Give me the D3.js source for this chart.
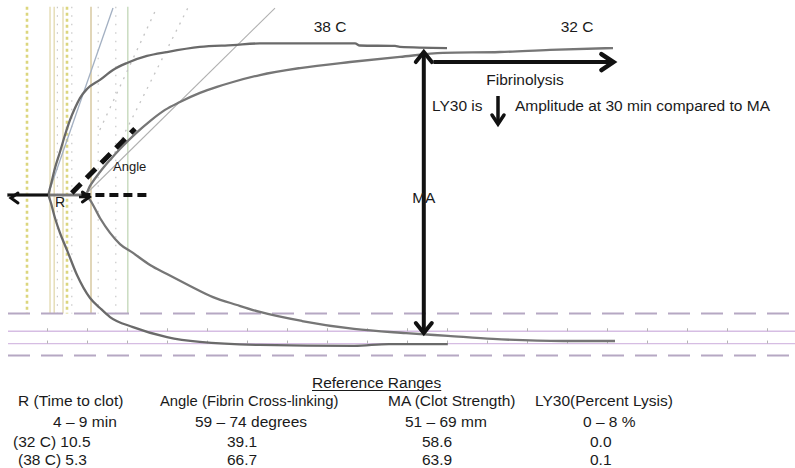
<!DOCTYPE html>
<html><head><meta charset="utf-8">
<script src="https://cdn.jsdelivr.net/npm/d3@7"></script>
<style>
body{margin:0;background:#fff}
svg{display:block}
text{font-family:"Liberation Sans",Arial,sans-serif;fill:#1a1a1a}
</style>
</head><body>
<svg id="c" width="795" height="468"></svg>
<script>
// ---- data: time (min) vs amplitude (mm, signed: upper / lower trace) ----
const curve38Upper = [[0,0],[5.12,0],[5.38,3.0],[6.0,11.6],[6.62,18.5],[7.25,25.8],[7.88,32.3],[8.5,37.4],[9.12,41.7],[10.0,45.6],[11.62,49.5],[13.25,53.8],[15.0,56.8],[17.5,59.8],[20.0,61.5],[24.1,63.7],[28.25,64.5],[31.6,65.2],[43.5,65.2],[44.1,64.3],[48.5,64.1],[49.1,63.7],[55.0,63.2]];
const curve38Lower = [[0,0],[5.12,0],[5.38,-2.2],[6.0,-9.9],[6.62,-16.3],[7.5,-23.7],[8.75,-34.4],[10.38,-44.3],[11.62,-48.6],[12.88,-52.5],[15.75,-56.8],[20.0,-61.1],[24.1,-63.2],[31.6,-64.5],[43.4,-64.9],[47.75,-64.1],[55.1,-64.1]];
const curve32Upper = [[0,0],[9.75,0],[10.38,3.9],[11.62,9.9],[12.88,15.1],[14.12,19.8],[16.0,26.2],[17.88,31.8],[19.75,36.6],[21.62,40.0],[24.12,43.9],[26.25,46.5],[28.25,48.6],[31.62,51.6],[36.62,54.6],[42.88,57.2],[49.12,59.4],[54.5,61.1],[61.62,61.5],[67.88,62.4],[75.75,63.2]];
const curve32Lower = [[0,0],[9.75,0],[10.38,-2.2],[11.62,-9.9],[12.88,-16.3],[14.12,-21.1],[15.75,-24.9],[17.88,-30.1],[20.0,-34.0],[22.88,-39.1],[25.75,-43.9],[28.75,-47.3],[31.62,-50.3],[36.88,-54.2],[43.38,-57.6],[49.88,-59.4],[55.12,-60.6],[60.75,-61.9],[69.5,-62.8],[76.0,-62.8]];

// angle tangent lines [t0,a0,t1,a1]
const angleTangent38 = [5.12,0,13.25,80.4];
const angleTangent32 = [9.75,0,33.5,80.4];
const angleDotted = [[11.6,28,18.7,80.4],[13.0,15,22.6,80.4]];

// vertical marker lines (min)
const dottedYellowTimes = [2.5, 7.5];
const solidMarkerTimes = [5.38, 5.9, 7.0, 10.5];
const greenMarkerTimes = [15.1];
const faintDotTimes = [6.3, 8.1, 11.4, 13.6];

// horizontal reference lines (mm)
const maRefRange = [51, 69];
const maValues = [58.6, 63.9];
const gridTicks = [5,10,15,20,25,30,35,40,45,50,55,60,65,70,75,80,85,90,95];

// labels
const tempLabels = ["38 C", "32 C"];
const tableTitle = "Reference Ranges";
const tableHeaders = ["R (Time to clot)", "Angle (Fibrin Cross-linking)", "MA (Clot Strength)", "LY30(Percent Lysis)"];
const refRanges = ["4 – 9 min", "59 – 74 degrees", "51 – 69 mm", "0 – 8 %"];
const values32 = ["10.5", "39.1", "58.6", "0.0"];
const values38 = ["5.3", "66.7", "63.9", "0.1"];

// ---- drawing ----
const W = 795, H = 468;
const svg = d3.select("#c");
svg.append("rect").attr("width", W).attr("height", H).attr("fill", "#fff");
const x = d3.scaleLinear().domain([0, 98.5]).range([7, 795]);
const y = d3.scaleLinear().domain([-80, 80]).range([381, 9]);

const vTop = y(81), vBot = y(-maRefRange[0]);
const g = svg.append("g");

// vertical lines
g.selectAll(".vy").data(dottedYellowTimes).join("line")
  .attr("x1", d => x(d)).attr("x2", d => x(d)).attr("y1", vTop).attr("y2", vBot)
  .attr("stroke", "#dcd67e").attr("stroke-width", 2.6).attr("stroke-dasharray", "3,3");
g.selectAll(".vs").data(solidMarkerTimes).join("line")
  .attr("x1", d => x(d)).attr("x2", d => x(d)).attr("y1", vTop).attr("y2", vBot)
  .attr("stroke", (d, i) => i === 3 ? "#d7c9a0" : "#e6deb8").attr("stroke-width", 1.5);
g.selectAll(".vg").data(greenMarkerTimes).join("line")
  .attr("x1", d => x(d)).attr("x2", d => x(d)).attr("y1", vTop).attr("y2", vBot)
  .attr("stroke", "#cadcc0").attr("stroke-width", 1.5);
g.selectAll(".vf").data(faintDotTimes).join("line")
  .attr("x1", d => x(d)).attr("x2", d => x(d)).attr("y1", vTop).attr("y2", vBot)
  .attr("stroke", "#c8c8c8").attr("stroke-width", 1.2).attr("stroke-dasharray", "1.5,7");

// angle dotted diagonals
g.selectAll(".ad").data(angleDotted).join("line")
  .attr("x1", d => x(d[0])).attr("y1", d => y(d[1])).attr("x2", d => x(d[2])).attr("y2", d => y(d[3]))
  .attr("stroke", "#c4c4c4").attr("stroke-width", 1.3).attr("stroke-dasharray", "2,6");

// horizontal reference lines
g.selectAll(".hd").data(maRefRange).join("line")
  .attr("x1", 8).attr("x2", W).attr("y1", d => y(-d)).attr("y2", d => y(-d))
  .attr("stroke", "#b6a8c3").attr("stroke-width", 2).attr("stroke-dasharray", "22,11");
g.selectAll(".hs").data(maValues).join("line")
  .attr("x1", 8).attr("x2", W).attr("y1", d => y(-d)).attr("y2", d => y(-d))
  .attr("stroke", "#d6bde3").attr("stroke-width", 1.3);
maValues.forEach(v => {
  const ax = g.append("g").attr("transform", `translate(0,${y(-v)})`)
    .call(d3.axisTop(x).tickValues(gridTicks).tickSize(3).tickFormat(""));
  ax.select(".domain").remove();
  ax.selectAll(".tick line").attr("stroke", "#b4b4b4").attr("stroke-width", 1);
});

// angle tangent lines
[[angleTangent38, "#a3b0c2", 1.3], [angleTangent32, "#b0b0b0", 1.1]].forEach(([d, c, w]) => {
  g.append("line").attr("x1", x(d[0])).attr("y1", y(d[1])).attr("x2", x(d[2])).attr("y2", y(d[3]))
    .attr("stroke", c).attr("stroke-width", w);
});

// traces
const line = d3.line().x(d => x(d[0])).y(d => y(d[1])).curve(d3.curveMonotoneX);
[[curve32Upper, "#767676"], [curve32Lower, "#767676"], [curve38Upper, "#6a6a6a"], [curve38Lower, "#6a6a6a"]]
  .forEach(([d, c]) => {
    g.append("path").datum(d).attr("d", line).attr("fill", "none")
      .attr("stroke", c).attr("stroke-width", 2.3).attr("stroke-linejoin", "round");
  });

// ---- annotations ----
const ann = svg.append("g");
function chevron(tx, ty, dir, len, half, w) {
  let p;
  if (dir === "right") p = [[tx - len, ty - half], [tx, ty], [tx - len, ty + half]];
  if (dir === "left") p = [[tx + len, ty - half], [tx, ty], [tx + len, ty + half]];
  if (dir === "up") p = [[tx - half, ty + len], [tx, ty], [tx + half, ty + len]];
  if (dir === "down") p = [[tx - half, ty - len], [tx, ty], [tx + half, ty - len]];
  ann.append("path").attr("d", d3.line()(p)).attr("fill", "none").attr("stroke", "#111")
    .attr("stroke-width", w).attr("stroke-linecap", "round").attr("stroke-linejoin", "miter");
}
function seg(x1, y1, x2, y2, w, dash) {
  const l = ann.append("line").attr("x1", x1).attr("y1", y1).attr("x2", x2).attr("y2", y2)
    .attr("stroke", "#111").attr("stroke-width", w);
  if (dash) l.attr("stroke-dasharray", dash);
  return l;
}
const base = y(0);
// R arrows
seg(8, base, x(5.12), base, 2.6);
chevron(11, base + 3, "left", 7, 5, 3);
seg(x(9.0), base + 2, x(10.2), base + 2, 2.6);
chevron(x(10.3), base + 2, "right", 7, 5, 3);
// angle dashed lines
seg(x(9.3), base, x(18), base, 4.2, "9,5");
seg(x(8.1), base - 2, x(16.0), y(28.5), 5, "13,8");
// MA arrow
const maT = 52.1;
seg(x(maT), y(61.0), x(maT), y(-59.0), 4);
chevron(x(maT), y(61.5), "up", 10, 8, 4);
chevron(x(maT), y(-59.4), "down", 10, 8, 4);
// fibrinolysis arrow
seg(x(53.3), y(57.2), x(75.6), y(57.2), 4);
chevron(x(75.8), y(57.2), "right", 12, 8, 4.5);
// LY30 down arrow
seg(498, 96, 498, 123, 3.5);
chevron(498, 124, "down", 9, 6, 3.5);

// text labels
const T = (tx, ty, s, fs, anchor) => svg.append("text").attr("x", tx).attr("y", ty)
  .attr("font-size", fs).attr("text-anchor", anchor || "start").text(s);
T(330, 32, tempLabels[0], 15.5, "middle");
T(577, 32, tempLabels[1], 15.5, "middle");
T(525, 85, "Fibrinolysis", 15.5, "middle");
T(432, 111, "LY30 is", 15.5);
T(515, 111, "Amplitude at 30 min compared to MA", 15.5);
T(x(maT), 203, "MA", 15.5, "middle");
T(55, 207, "R", 14);
T(113, 171, "Angle", 13);

// table
const tt = T(312, 388, tableTitle, 15.5);
const tw = tt.node().getComputedTextLength();
svg.append("line").attr("x1", 312).attr("x2", 312 + tw).attr("y1", 390.5).attr("y2", 390.5)
  .attr("stroke", "#1a1a1a").attr("stroke-width", 1);
const hx = [18, 160, 388, 535];
tableHeaders.forEach((s, i) => T(hx[i], 406, s, i === 1 ? 14.8 : 15.5));
const rx = [53, 195, 405, 583];
refRanges.forEach((s, i) => T(rx[i], 426.5, s, 15.5));
const vx = [13, 227, 422, 590];
values32.forEach((s, i) => T(vx[i], 447, i === 0 ? "(32 C) " + s : s, 15.5));
const vx2 = [18, 227, 422, 590];
values38.forEach((s, i) => T(vx2[i], 465, i === 0 ? "(38 C) " + s : s, 15.5));
</script>
</body></html>
